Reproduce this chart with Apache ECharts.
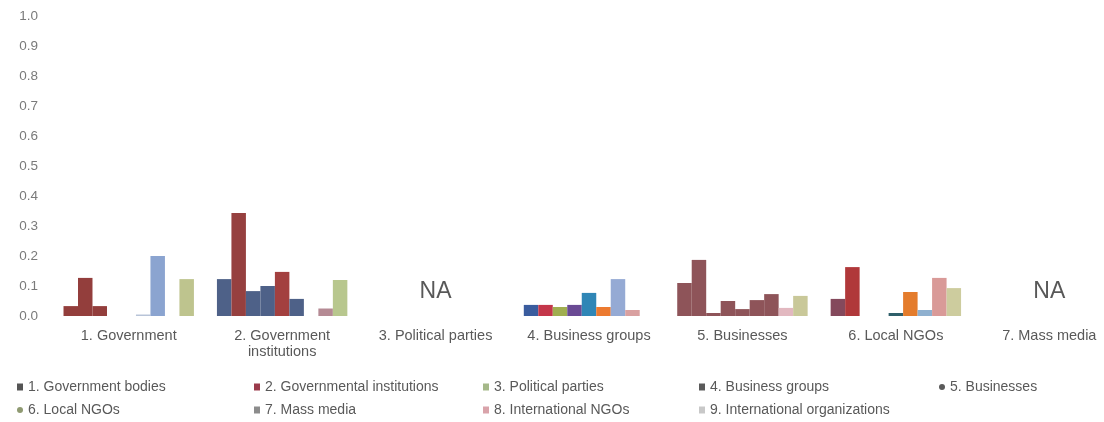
<!DOCTYPE html>
<html>
<head>
<meta charset="utf-8">
<title>Stakeholder groups</title>
<script src="https://cdn.jsdelivr.net/npm/echarts@6/dist/echarts.min.js"></script>
<style>
  html, body { margin: 0; padding: 0; background: #ffffff; overflow: hidden; width: 1104px; height: 422px; }
  /* the plot runs on past the right edge of the page */
  #chart { width: 1126px; height: 422px; }
</style>
</head>
<body>
<div id="chart"></div>
<script>
// Categories on the x axis
const categories = [
  '1. Government',
  '2. Government\ninstitutions',
  '3. Political parties',
  '4. Business groups',
  '5. Businesses',
  '6. Local NGOs',
  '7. Mass media'
];

// Series names (legend)
const seriesNames = [
  '1. Government bodies',
  '2. Governmental institutions',
  '3. Political parties',
  '4. Business groups',
  '5. Businesses',
  '6. Local NGOs',
  '7. Mass media',
  '8. International NGOs',
  '9. International organizations'
];

// Values per series, one entry per category (null = not available)
const governmentBodies      = [0.033, 0.123, null, 0.037, 0.110, 0.057, null];
const governmentalInst      = [0.127, 0.343, null, 0.037, 0.187, 0.163, null];
const politicalParties      = [0.033, 0.083, null, 0.030, 0.010, 0,     null];
const businessGroups        = [0,     0.100, null, 0.037, 0.050, 0,     null];
const businesses            = [0,     0.147, null, 0.077, 0.023, 0.010, null];
const localNGOs             = [0.005, 0.057, null, 0.030, 0.053, 0.080, null];
const massMedia             = [0.200, 0,     null, 0.123, 0.073, 0.020, null];
const internationalNGOs     = [0,     0.025, null, 0.020, 0.027, 0.127, null];
const internationalOrgs     = [0.123, 0.120, null, 0,     0.067, 0.093, null];

const seriesValues = [
  governmentBodies, governmentalInst, politicalParties, businessGroups,
  businesses, localNGOs, massMedia, internationalNGOs, internationalOrgs
];

// Categories without data
const naCategories = [2, 6];

// Y axis range
const yMin = 0;
const yMax = 1;
const yStep = 0.1;

// Bar fill colours per series
const barColors = [
  '#3A5C9E', '#C4364A', '#A0AE50', '#6A4A94', '#2F86B6',
  '#EC7A30', '#95AAD4', '#D9A0A0', '#C5CC98'
];

// Per-category fill overrides: category index -> { series index: colour }
const cellColors = {
  0: { 0: '#933E3C', 1: '#933E3C', 2: '#933E3C', 5: '#B8C4D8', 6: '#8BA4D0', 8: '#BEC48E' },
  1: { 0: '#4E6188', 1: '#96403F', 2: '#4E6188', 3: '#4E6188', 4: '#A3403F', 5: '#4E6188', 7: '#B58A94', 8: '#B8C78E' },
  4: { 0: '#8E5459', 1: '#8E5459', 2: '#8E5459', 3: '#8E5459', 4: '#8E5459', 5: '#8E5459', 6: '#8E5459', 7: '#E2B8C0', 8: '#C9C899' },
  5: { 0: '#84495C', 1: '#B0383A', 4: '#2F5F6A', 5: '#E47C2C', 6: '#8FB0CF', 7: '#D99A98', 8: '#CDCC9E' }
};

// Legend marker colours and shapes
const legendColors = [
  '#555555', '#9B3B4B', '#A5B889', '#5A5A5A', '#5A5A5A',
  '#8F9A72', '#8C8C8C', '#D9A3AA', '#C8C8C8'
];
const legendIcons = ['rect', 'rect', 'rect', 'rect', 'circle', 'circle', 'rect', 'rect', 'rect'];

// Legend columns: series indices per column and left offsets
const legendColumns = [[0, 5], [1, 6], [2, 7], [3, 8], [4]];
const legendLefts = [17, 254, 483, 699, 939];

const FONT = 'Liberation Sans, Arial, sans-serif';

function colorFor(si, ci) {
  const o = cellColors[ci];
  return (o && o[si]) || barColors[si];
}

const barSeries = seriesValues.map((vals, si) => ({
  name: seriesNames[si],
  type: 'bar',
  barGap: '0%',
  barCategoryGap: '15%',
  data: vals.map((v, ci) => v === null ? '-' : { value: v, itemStyle: { color: colorFor(si, ci) } })
}));

const naSeries = {
  type: 'scatter',
  symbolSize: 1,
  itemStyle: { color: 'rgba(0,0,0,0)' },
  silent: true,
  label: {
    show: true,
    position: 'inside',
    formatter: 'NA',
    color: '#2e2e2e',
    fontSize: 23,
    fontFamily: FONT
  },
  data: naCategories.map(ci => [ci, 0.08])
};

const legends = legendColumns.map((col, k) => ({
  orient: 'vertical',
  left: legendLefts[k],
  top: 379,
  height: 44,
  padding: 0,
  itemWidth: 6,
  itemHeight: 7,
  itemGap: 7,
  selectedMode: false,
  textStyle: {
    color: '#595959',
    fontSize: 14,
    lineHeight: 16,
    fontFamily: FONT
  },
  data: col.map(si => ({
    name: seriesNames[si],
    icon: legendIcons[si],
    itemStyle: { color: legendColors[si] }
  }))
}));

const chart = echarts.init(document.getElementById('chart'), null, { renderer: 'canvas' });
chart.setOption({
  animation: false,
  backgroundColor: '#ffffff',
  grid: { left: 52, right: 0, top: 16, bottom: 106, containLabel: false },
  legend: legends,
  xAxis: {
    type: 'category',
    data: categories,
    axisLine: { show: false },
    axisTick: { show: false },
    axisLabel: {
      interval: 0,
      margin: 12,
      color: '#595959',
      fontSize: 14.5,
      lineHeight: 16,
      fontFamily: FONT
    }
  },
  yAxis: {
    type: 'value',
    min: yMin,
    max: yMax,
    interval: yStep,
    axisLine: { show: false },
    axisTick: { show: false },
    splitLine: { show: false },
    axisLabel: {
      margin: 14,
      color: '#7a7a7a',
      fontSize: 13.5,
      fontFamily: FONT,
      formatter: v => v.toFixed(1)
    }
  },
  series: barSeries.concat([naSeries])
});
</script>
</body>
</html>
